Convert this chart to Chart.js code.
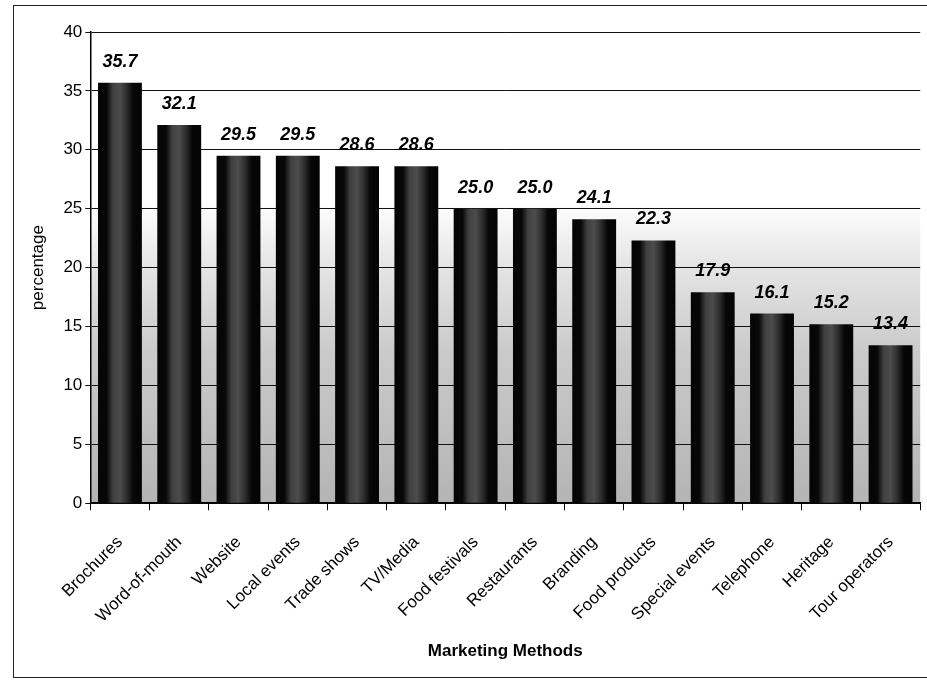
<!DOCTYPE html>
<html lang="en">

<head>
    <meta charset="UTF-8">
    <title>Marketing Methods</title>
    <script src="https://cdn.jsdelivr.net/npm/chart.js"></script>
    <style>
        body {
            margin: 0;
            background: #fff;
            overflow: hidden;
        }

        /* scanned frame, right side runs off the page */
        .frame {
            position: absolute;
            left: 13px;
            top: 5px;
            width: 1000px;
            height: 671px;
            border: 1.5px solid #222;
        }

        .wrap {
            position: absolute;
            left: 0;
            top: 0;
            width: 927px;
            height: 683px;
        }
    </style>
</head>

<body>
    <div class="frame"></div>
    <div class="wrap"><canvas id="chart"></canvas></div>

    <script>
        // Chart data
        const methods = ["Brochures", "Word-of-mouth", "Website", "Local events", "Trade shows", "TV/Media",
            "Food festivals", "Restaurants", "Branding", "Food products", "Special events", "Telephone",
            "Heritage", "Tour operators"];
        const percentages = [35.7, 32.1, 29.5, 29.5, 28.6, 28.6, 25.0, 25.0, 24.1, 22.3, 17.9, 16.1, 15.2, 13.4];
        const yTicks = [0, 5, 10, 15, 20, 25, 30, 35, 40];

        // grey gradient behind the bars
        const plotBackground = {
            id: "plotBackground",
            beforeDraw(chart) {
                const { ctx, chartArea: a } = chart;
                const g = ctx.createLinearGradient(0, a.top, 0, a.bottom);
                g.addColorStop(0, "#ffffff");
                g.addColorStop(0.36, "#ffffff");
                g.addColorStop(0.5, "#e4e4e4");
                g.addColorStop(0.68, "#cacaca");
                g.addColorStop(1, "#b4b4b4");
                ctx.save();
                ctx.fillStyle = g;
                ctx.fillRect(a.left, a.top, a.right - a.left, a.bottom - a.top);
                ctx.restore();
            }
        };

        // bold italic numbers above each bar
        const valueLabels = {
            id: "valueLabels",
            afterDatasetsDraw(chart) {
                const { ctx } = chart;
                const meta = chart.getDatasetMeta(0);
                ctx.save();
                ctx.font = "italic bold 18px Arial, 'Liberation Sans', sans-serif";
                ctx.fillStyle = "#000";
                ctx.textAlign = "center";
                ctx.textBaseline = "bottom";
                meta.data.forEach((bar, i) => {
                    ctx.fillText(percentages[i].toFixed(1), bar.x, bar.y - 12);
                });
                ctx.restore();
            }
        };

        // dark bar with a lighter stippled band in the middle
        function barFill(context) {
            const chart = context.chart;
            const x = chart.scales && chart.scales.x;
            if (!x || context.dataIndex === undefined) return "#0a0a0a";
            const cx = x.getPixelForValue(context.dataIndex);
            const w = (x.width / methods.length) * 0.74;
            if (!isFinite(cx) || !isFinite(w) || w <= 0) return "#0a0a0a";
            const g = chart.ctx.createLinearGradient(cx - w / 2, 0, cx + w / 2, 0);
            g.addColorStop(0, "#040404");
            g.addColorStop(0.2, "#080808");
            g.addColorStop(0.34, "#404040");
            g.addColorStop(0.5, "#4c4c4c");
            g.addColorStop(0.66, "#2c2c2c");
            g.addColorStop(0.8, "#070707");
            g.addColorStop(1, "#040404");
            return g;
        }

        const font = "Arial, 'Liberation Sans', sans-serif";

        new Chart(document.getElementById("chart"), {
            type: "bar",
            data: {
                labels: methods,
                datasets: [{
                    data: percentages,
                    backgroundColor: barFill,
                    borderWidth: 0,
                    barPercentage: 0.74,
                    categoryPercentage: 1.0
                }]
            },
            options: {
                responsive: true,
                maintainAspectRatio: false,
                animation: false,
                layout: {
                    padding: { left: 28, top: 32, right: 0, bottom: 21 }
                },
                plugins: {
                    legend: { display: false },
                    tooltip: { enabled: false }
                },
                scales: {
                    x: {
                        // rotated labels take less room than Chart.js reserves
                        afterFit(axis) {
                            axis.height -= 7;
                        },
                        grid: {
                            drawOnChartArea: false,
                            drawTicks: true,
                            tickLength: 7,
                            color: "#000",
                            offset: true
                        },
                        border: { color: "#000", width: 1.5 },
                        ticks: {
                            color: "#000",
                            font: { family: font, size: 17 },
                            minRotation: 45,
                            maxRotation: 45,
                            padding: 22
                        },
                        title: {
                            display: true,
                            text: "Marketing Methods",
                            color: "#000",
                            font: { family: font, size: 17, weight: "bold" },
                            padding: { top: 0, bottom: 0 }
                        }
                    },
                    y: {
                        min: 0,
                        max: 40,
                        afterBuildTicks(axis) {
                            axis.ticks = yTicks.map(v => ({ value: v }));
                        },
                        grid: {
                            color: "#111",
                            lineWidth: 1,
                            tickLength: 5
                        },
                        border: { color: "#000", width: 1.5 },
                        ticks: {
                            color: "#000",
                            font: { family: font, size: 17 },
                            padding: 3
                        },
                        title: {
                            display: true,
                            text: "percentage",
                            color: "#000",
                            font: { family: font, size: 17 },
                            padding: { top: 0, bottom: 12 }
                        }
                    }
                }
            },
            plugins: [plotBackground, valueLabels]
        });
    </script>
</body>

</html>
